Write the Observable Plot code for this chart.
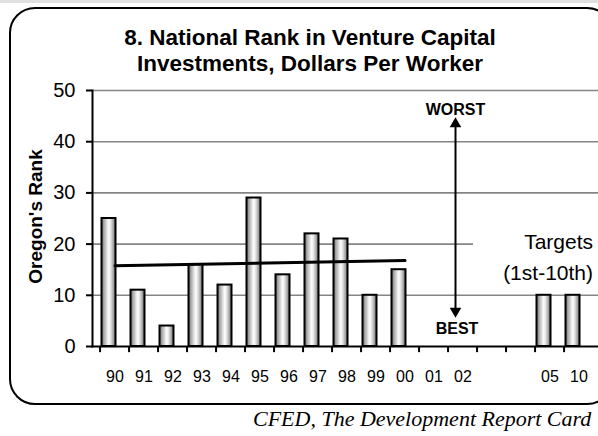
<!DOCTYPE html>
<html>
<head>
<meta charset="utf-8">
<script src="https://cdn.jsdelivr.net/npm/d3@7"></script>
<script src="https://cdn.jsdelivr.net/npm/@observablehq/plot@0.6"></script>
<style>
  html, body { margin: 0; padding: 0; background: #fff; }
  #page { position: relative; width: 598px; height: 436px; overflow: hidden; background: #fff; font-family: "Liberation Sans", Arial, sans-serif; }
  #strip { position: absolute; left: 0; top: 0; width: 598px; height: 3px; background: #e0e0e0; }
  #frame { position: absolute; left: 9px; top: 7px; width: 604px; height: 398px; box-sizing: border-box; border: 2.5px solid #000; border-radius: 26px; }
  #title { position: absolute; left: 10px; top: 25px; width: 600px; text-align: center; font-weight: bold; font-size: 22.5px; line-height: 26px; color: #000; white-space: nowrap; }
  #chart { position: absolute; left: 0; top: 0; }
  #targets { position: absolute; left: 473px; top: 226px; width: 125px; height: 62px; box-sizing: border-box; padding-right: 5px; background: #fff; text-align: right; font-size: 21px; line-height: 31px; color: #000; white-space: nowrap; }
  #caption { position: absolute; left: 253px; top: 407px; white-space: nowrap; font-family: "Liberation Serif", "Times New Roman", serif; font-style: italic; font-size: 22px; line-height: 23px; color: #000; }
</style>
</head>
<body>
<div id="page">
  <div id="strip"></div>
  <div id="frame"></div>
  <div id="title">8. National Rank in Venture Capital<br>Investments, Dollars Per Worker</div>
  <div id="chart"></div>
  <div id="targets">Targets<br>(1st-10th)</div>
  <div id="caption">CFED, The Development Report Card</div>
</div>
<script>
// ---- data ----
const categories = ["90","91","92","93","94","95","96","97","98","99","00","01","02","03","04","05","10"];
const tickLabels = ["90","91","92","93","94","95","96","97","98","99","00","01","02","","","05","10"];
const actualYears = ["90","91","92","93","94","95","96","97","98","99","00"];
const actualRank = [25, 11, 4, 16, 12, 29, 14, 22, 21, 10, 15];
const targetYears = ["05","10"];
const targetRank = [10, 10];
const yTicks = [0, 10, 20, 30, 40, 50];
const gridValues = [10, 20, 30, 40, 50];
const arrowYear = ["02"];
const worstLabel = ["WORST"];
const bestLabel = ["BEST"];
const axisTitle = ["Oregon's Rank"];

// ---- derived tables ----
const bars = actualYears.map((year, i) => ({year, rank: actualRank[i]}))
  .concat(targetYears.map((year, i) => ({year, rank: targetRank[i]})));
const labelOf = new Map(categories.map((c, i) => [c, tickLabels[i]]));

// linear trend over the actual years
const n = actualRank.length;
const xs = d3.range(n);
const mx = d3.mean(xs), my = d3.mean(actualRank);
const slope = d3.sum(xs, (x, i) => (x - mx) * (actualRank[i] - my)) / d3.sum(xs, x => (x - mx) ** 2);
const intercept = my - slope * mx;
const trend = [
  {year: actualYears[0], value: intercept},
  {year: actualYears[n - 1], value: intercept + slope * (n - 1)}
];

const xRange = [92, 600];
const bw = (xRange[1] - xRange[0]) / categories.length;

const chart = Plot.plot({
  width: 598,
  height: 436,
  marginLeft: 92,
  marginRight: 0,
  marginTop: 90,
  marginBottom: 90,
  style: {background: "transparent", fontFamily: "Liberation Sans, Arial, sans-serif", color: "#000"},
  x: {domain: categories, range: xRange, padding: 0},
  y: {domain: [0, 50], range: [346, 90]},
  marks: [
    Plot.ruleY(gridValues, {stroke: "#858585", strokeWidth: 1.6}),
    Plot.barY(bars, {x: "year", y: "rank", fill: "url(#cyl)", stroke: "#000", strokeWidth: 2, insetLeft: 1.5, insetRight: 13.5}),
    Plot.line(trend, {x: "year", y: "value", stroke: "#000", strokeWidth: 3}),
    Plot.frame({anchor: "left", stroke: "#000", strokeWidth: 2}),
    Plot.frame({anchor: "bottom", stroke: "#000", strokeWidth: 2}),
    Plot.axisY({ticks: yTicks, tickSize: 6, tickPadding: 11, fontSize: 20, label: null, strokeWidth: 2}),
    Plot.axisX({tickSize: 0, tickPadding: 24, fontSize: 16, label: null, tickFormat: d => labelOf.get(d)}),
    Plot.ruleX(categories, {x: d => d, y1: 0, y2: -1.2, dx: -bw / 2, stroke: "#000", strokeWidth: 2}),
    // worst/best arrow
    Plot.ruleX(arrowYear, {x: d => d, y1: 7, y2: 43.5, dx: -7.5, stroke: "#000", strokeWidth: 2}),
    Plot.dot(arrowYear, {x: d => d, y: 44.7, dx: -7.5, dy: 6.3, symbol: "triangle", r: 4.3, fill: "#000", stroke: "none"}),
    Plot.dot(arrowYear, {x: d => d, y: 5.7, dx: -7.5, dy: -6.3, symbol: "triangle", r: 4.3, fill: "#000", stroke: "none", rotate: 180}),
    Plot.text(worstLabel, {x: () => "02", y: 46.3, dx: -7.5, text: d => d, fontSize: 16, fontWeight: "bold", fill: "#000"}),
    Plot.text(bestLabel, {x: () => "02", y: 3.4, dx: -6, text: d => d, fontSize: 16, fontWeight: "bold", fill: "#000"}),
    Plot.text(axisTitle, {frameAnchor: "left", textAnchor: "middle", dx: -57, dy: -2, rotate: -90, text: d => d, fontSize: 19, fontWeight: "bold", fill: "#000"})
  ]
});

// cylinder-like gradient for the bars
const defs = document.createElementNS("http://www.w3.org/2000/svg", "defs");
defs.innerHTML = `<linearGradient id="cyl" x1="0" x2="1" y1="0" y2="0">
  <stop offset="0" stop-color="#6e6e6e"/>
  <stop offset="0.18" stop-color="#a8a8a8"/>
  <stop offset="0.38" stop-color="#dedede"/>
  <stop offset="0.52" stop-color="#ffffff"/>
  <stop offset="0.68" stop-color="#dcdcdc"/>
  <stop offset="0.86" stop-color="#a0a0a0"/>
  <stop offset="1" stop-color="#6a6a6a"/>
</linearGradient>`;
chart.insertBefore(defs, chart.firstChild);
document.getElementById("chart").appendChild(chart);
</script>
</body>
</html>
